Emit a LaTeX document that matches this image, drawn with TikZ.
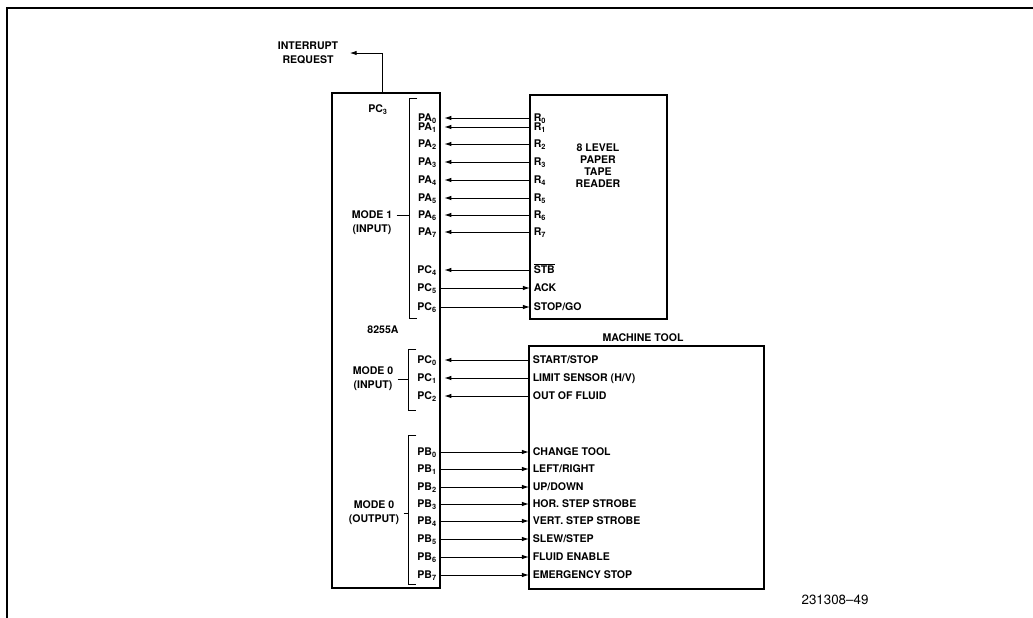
\documentclass[tikz,border=0pt]{standalone}
\usepackage{fontspec}
\setmainfont{TeX Gyre Heros}
\usetikzlibrary{arrows.meta, positioning}
\newcommand{\lblfont}{\bfseries\fontsize{7.5}{9.8}\selectfont}
\tikzset{
  chipbox/.style={rectangle, draw, line width=1.8pt, inner sep=0pt,
    outer sep=0pt, anchor=north west},
  pinlbl/.style={anchor=east, inner sep=2pt, text height=5.4pt,
    text depth=0pt, font=\lblfont},
  siglbl/.style={anchor=west, inner sep=2.5pt, text height=5.4pt,
    text depth=0pt, font=\lblfont},
  modelbl/.style={align=center, inner sep=3pt, font=\lblfont},
  inarrow/.style={-{Latex[length=5pt,width=3.2pt]}, line width=0.7pt,
    shorten >=3pt},
  outarrow/.style={-{Latex[length=5pt,width=3.2pt]}, line width=0.7pt},
  bracket/.style={line width=0.7pt}
}

\begin{document}
\begin{tikzpicture}[x=0.025cm, y=-0.025cm]

  % ── Page: 1033 x 618 units, y grows downwards ─────────────────────────────
  \useasboundingbox (0,0) rectangle (1033,618);
  \draw[line width=1.5pt] (7,618) -- (7,8) -- (1033,8);

  % ── Boxes ─────────────────────────────────────────────────────────────────
  \node[chipbox, minimum width=2.7cm, minimum height=12.375cm]
       (chip) at (332,93) {};
  \node[chipbox, minimum width=3.425cm, minimum height=5.6cm]
       (reader) at (530,95) {};
  \node[chipbox, minimum width=5.875cm, minimum height=6.075cm]
       (mtool) at (529,346) {};

  % ── Box titles ────────────────────────────────────────────────────────────
  \node[modelbl, font=\bfseries\fontsize{7.5}{8.6}\selectfont]
       (rdtitle) at (598,166) {8 LEVEL\\PAPER\\TAPE\\READER};
  \node[modelbl] (mttitle) at (643,338) {MACHINE TOOL};
  \node[modelbl] (chiptitle) at (383,330) {8255A};
  \node[modelbl] (pc3) at (378,110) {PC\textsubscript{3}};

  % ── Interrupt request ─────────────────────────────────────────────────────
  \node[modelbl] (irq) at (308,53) {INTERRUPT\\REQUEST};
  \coordinate (irqsrc) at (382,93);
  \draw[outarrow] (irqsrc) |- ([xshift=5pt]irq.east);

  % ── Mode labels and brackets ──────────────────────────────────────────────
  \node[modelbl] (m1) at (372,223) {MODE 1\\(INPUT)};
  \node[modelbl] (m0in) at (373,379) {MODE 0\\(INPUT)};
  \node[modelbl] (m0out) at (374,513) {MODE 0\\(OUTPUT)};

  \coordinate (b1t) at (409,98);   \coordinate (b1b) at (409,318);
  \coordinate (b2t) at (408,349);  \coordinate (b2b) at (408,410);
  \coordinate (b3t) at (408,435);  \coordinate (b3b) at (408,584);

  \draw[bracket] ([xshift=6pt]b1t) -- (b1t) -- (b1b) -- ([xshift=6pt]b1b);
  \draw[bracket] ([xshift=6pt]b2t) -- (b2t) -- (b2b) -- ([xshift=6pt]b2b);
  \draw[bracket] ([xshift=6pt]b3t) -- (b3t) -- (b3b) -- ([xshift=6pt]b3b);

  \draw[bracket] ([yshift=5pt]m1.east) -- ([yshift=5pt]m1.east -| b1t);
  \draw[bracket] (m0in.east) -- (m0in.east -| b2t);
  \draw[bracket] (m0out.east) -- (m0out.east -| b3t);

  % ── Port pins (chip side) ─────────────────────────────────────────────────
  \node[pinlbl] (pa0) at (440,118) {PA\textsubscript{0}};
  \node[pinlbl] (pa1) at (440,127) {PA\textsubscript{1}};
  \node[pinlbl] (pa2) at (440,144) {PA\textsubscript{2}};
  \node[pinlbl] (pa3) at (440,162) {PA\textsubscript{3}};
  \node[pinlbl] (pa4) at (440,180) {PA\textsubscript{4}};
  \node[pinlbl] (pa5) at (440,198) {PA\textsubscript{5}};
  \node[pinlbl] (pa6) at (440,215) {PA\textsubscript{6}};
  \node[pinlbl] (pa7) at (440,232) {PA\textsubscript{7}};
  \node[pinlbl] (pc4) at (440,270) {PC\textsubscript{4}};
  \node[pinlbl] (pc5) at (440,288) {PC\textsubscript{5}};
  \node[pinlbl] (pc6) at (440,307) {PC\textsubscript{6}};

  \node[pinlbl] (pc0) at (440,360) {PC\textsubscript{0}};
  \node[pinlbl] (pc1) at (440,378) {PC\textsubscript{1}};
  \node[pinlbl] (pc2) at (440,396) {PC\textsubscript{2}};

  \node[pinlbl] (pb0) at (440,452) {PB\textsubscript{0}};
  \node[pinlbl] (pb1) at (440,469) {PB\textsubscript{1}};
  \node[pinlbl] (pb2) at (440,487) {PB\textsubscript{2}};
  \node[pinlbl] (pb3) at (440,504) {PB\textsubscript{3}};
  \node[pinlbl] (pb4) at (440,521) {PB\textsubscript{4}};
  \node[pinlbl] (pb5) at (440,539) {PB\textsubscript{5}};
  \node[pinlbl] (pb6) at (440,557) {PB\textsubscript{6}};
  \node[pinlbl] (pb7) at (440,575) {PB\textsubscript{7}};

  % ── Signals (tape reader side) ────────────────────────────────────────────
  \node[siglbl] (r0) at (530,118) {R\textsubscript{0}};
  \node[siglbl] (r1) at (530,127) {R\textsubscript{1}};
  \node[siglbl] (r2) at (530,144) {R\textsubscript{2}};
  \node[siglbl] (r3) at (530,162) {R\textsubscript{3}};
  \node[siglbl] (r4) at (530,180) {R\textsubscript{4}};
  \node[siglbl] (r5) at (530,198) {R\textsubscript{5}};
  \node[siglbl] (r6) at (530,215) {R\textsubscript{6}};
  \node[siglbl] (r7) at (530,232) {R\textsubscript{7}};
  \node[siglbl] (stb) at (530,270) {$\overline{\mbox{STB}}$};
  \node[siglbl] (ack) at (530,288) {ACK};
  \node[siglbl] (stopgo) at (530,307) {STOP/GO};

  % ── Signals (machine tool side) ───────────────────────────────────────────
  \node[siglbl] (startstop) at (529,360) {START/STOP};
  \node[siglbl] (limit) at (529,378) {LIMIT SENSOR (H/V)};
  \node[siglbl] (fluidout) at (529,396) {OUT OF FLUID};

  \node[siglbl] (chtool) at (529,452) {CHANGE TOOL};
  \node[siglbl] (leftright) at (529,469) {LEFT/RIGHT};
  \node[siglbl] (updown) at (529,487) {UP/DOWN};
  \node[siglbl] (hstep) at (529,504) {HOR. STEP STROBE};
  \node[siglbl] (vstep) at (529,521) {VERT. STEP STROBE};
  \node[siglbl] (slew) at (529,539) {SLEW/STEP};
  \node[siglbl] (fluiden) at (529,557) {FLUID ENABLE};
  \node[siglbl] (estop) at (529,575) {EMERGENCY STOP};

  % ── Connections — mode 1 (input) ──────────────────────────────────────────
  \draw[inarrow] (r0.west) -- (pa0.east);
  \draw[inarrow] (r1.west) -- (pa1.east);
  \draw[inarrow] (r2.west) -- (pa2.east);
  \draw[inarrow] (r3.west) -- (pa3.east);
  \draw[inarrow] (r4.west) -- (pa4.east);
  \draw[inarrow] (r5.west) -- (pa5.east);
  \draw[inarrow] (r6.west) -- (pa6.east);
  \draw[inarrow] (r7.west) -- (pa7.east);
  \draw[inarrow] (stb.west) -- (pc4.east);
  \draw[outarrow] (pc5.east) -- (ack.west);
  \draw[outarrow] (pc6.east) -- (stopgo.west);

  % ── Connections — mode 0 (input) ──────────────────────────────────────────
  \draw[inarrow] (startstop.west) -- (pc0.east);
  \draw[inarrow] (limit.west) -- (pc1.east);
  \draw[inarrow] (fluidout.west) -- (pc2.east);

  % ── Connections — mode 0 (output) ─────────────────────────────────────────
  \draw[outarrow] (pb0.east) -- (chtool.west);
  \draw[outarrow] (pb1.east) -- (leftright.west);
  \draw[outarrow] (pb2.east) -- (updown.west);
  \draw[outarrow] (pb3.east) -- (hstep.west);
  \draw[outarrow] (pb4.east) -- (vstep.west);
  \draw[outarrow] (pb5.east) -- (slew.west);
  \draw[outarrow] (pb6.east) -- (fluiden.west);
  \draw[outarrow] (pb7.east) -- (estop.west);

  % ── Figure number ─────────────────────────────────────────────────────────
  \node[font=\fontsize{9.5}{11}\selectfont] (fignum) at (835,600) {231308--49};

\end{tikzpicture}
\end{document}
